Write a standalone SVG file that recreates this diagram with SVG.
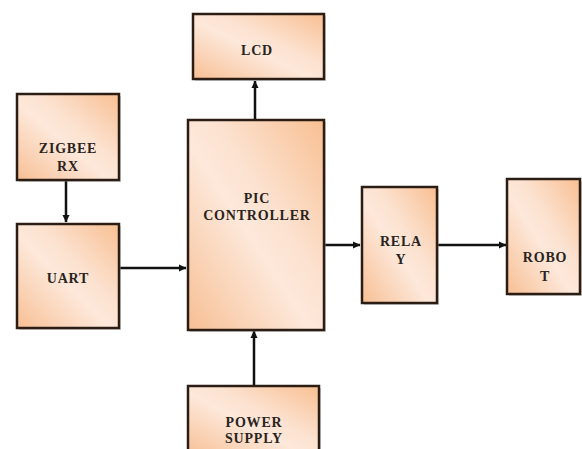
<svg xmlns="http://www.w3.org/2000/svg" width="582" height="449" viewBox="0 0 582 449">
<style>
.box{fill:url(#peach);stroke:#2b1d14;stroke-width:2.5}
.sh{fill:#9a9a9a;opacity:0.45}
.t{font-family:"Liberation Serif","Times New Roman",serif;font-weight:bold;font-size:14px;fill:#2a2420;text-anchor:middle;letter-spacing:0.8px}
.c{stroke:#111;stroke-width:2.5;fill:none;marker-end:url(#ah)}
</style>
<defs>
<linearGradient id="peach" x1="0" y1="1" x2="1" y2="0">
<stop offset="0" stop-color="#f7bf94"/>
<stop offset="0.45" stop-color="#fde8da"/>
<stop offset="0.6" stop-color="#fce2d0"/>
<stop offset="1" stop-color="#f8bf92"/>
</linearGradient>
<marker id="ah" markerWidth="8" markerHeight="8" refX="7" refY="4" orient="auto" markerUnits="userSpaceOnUse">
<path d="M0,0.5 L7.5,4 L0,7.5 Z" fill="#111"/>
</marker>
</defs>
<rect width="582" height="449" fill="#fff"/>
<g id="connectors">
<line class="c" x1="66" y1="181" x2="66" y2="222"/>
<line class="c" x1="119" y1="268" x2="186" y2="268"/>
<line class="c" x1="255" y1="120" x2="255" y2="81"/>
<line class="c" x1="324" y1="245" x2="360" y2="245"/>
<line class="c" x1="437" y1="245" x2="506" y2="245"/>
<line class="c" x1="254" y1="386" x2="254" y2="331"/>
</g>
<g id="zigbee">
<rect class="sh" x="19" y="96" width="102" height="86"/>
<rect class="box" x="17" y="94" width="102" height="86"/>
<text class="t" x="68" y="153">ZIGBEE</text>
<text class="t" x="68" y="171">RX</text>
</g>
<g id="uart">
<rect class="sh" x="19" y="226" width="102" height="104"/>
<rect class="box" x="17" y="224" width="102" height="104"/>
<text class="t" x="68" y="283">UART</text>
</g>
<g id="lcd">
<rect class="sh" x="195" y="16" width="131" height="65"/>
<rect class="box" x="193" y="14" width="131" height="65"/>
<text class="t" x="257" y="55">LCD</text>
</g>
<g id="pic">
<rect class="sh" x="190" y="122" width="136" height="210"/>
<rect class="box" x="188" y="120" width="136" height="210"/>
<text class="t" x="257" y="203">PIC</text>
<text class="t" x="257" y="220">CONTROLLER</text>
</g>
<g id="relay">
<rect class="sh" x="364" y="189" width="75" height="116"/>
<rect class="box" x="362" y="187" width="75" height="116"/>
<text class="t" x="401" y="246">RELA</text>
<text class="t" x="401" y="264">Y</text>
</g>
<g id="robot">
<rect class="sh" x="509" y="181" width="73" height="115"/>
<rect class="box" x="507" y="179" width="73" height="115"/>
<text class="t" x="545" y="262">ROBO</text>
<text class="t" x="545" y="281">T</text>
</g>
<g id="power">
<rect class="sh" x="190" y="388" width="131" height="70"/>
<rect class="box" x="188" y="386" width="131" height="70"/>
<text class="t" x="254" y="427">POWER</text>
<text class="t" x="254" y="443">SUPPLY</text>
</g>
</svg>
